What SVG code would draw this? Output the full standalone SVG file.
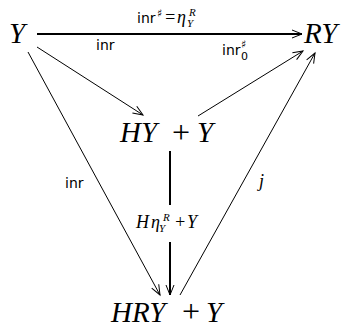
<svg xmlns="http://www.w3.org/2000/svg" width="345" height="328" viewBox="0 0 345 328">
<style>
.obj{font-family:"Liberation Serif","DejaVu Serif",serif;font-size:29px;font-style:italic;fill:#000}
.up{font-style:normal}
.plus{font-style:normal;font-size:32px}
.lbl{font-family:"DejaVu Sans","Liberation Sans",sans-serif;font-size:14px;fill:#000}
.ml{font-family:"Liberation Serif","DejaVu Serif",serif;font-size:18px;font-style:italic;fill:#000}
.sm{font-size:11px}
.thin{stroke:#000;stroke-width:1;fill:none}
.thick{stroke:#000;stroke-width:2;fill:none}
</style>
<defs>
<marker id="ah" markerUnits="userSpaceOnUse" markerWidth="20" markerHeight="20" refX="0" refY="0" viewBox="-12 -10 14 20" orient="auto">
<path d="M-10,-4 L0,0 L-10,4" fill="none" stroke="#000" stroke-width="1"/>
</marker>
</defs>
<g id="connectors">
<g id="e-Y-RY">
<line class="thick" x1="37" y1="34" x2="302" y2="34" marker-end="url(#ah)"/>
<text x="137" y="23" class="lbl">inr</text>
<text x="157" y="17" class="lbl sm">♯</text>
<text x="164" y="23" class="ml up">=</text>
<text x="177" y="23" class="ml">η</text>
<text x="189" y="16" class="ml sm">R</text>
<text x="187" y="27" class="ml sm">Y</text>
</g>
<g id="e-Y-HY">
<line class="thin" x1="37" y1="47" x2="143" y2="115" marker-end="url(#ah)"/>
<text x="96" y="50" class="lbl">inr</text>
</g>
<g id="e-HY-RY">
<line class="thin" x1="198" y1="116" x2="303" y2="51" marker-end="url(#ah)"/>
<text x="222" y="55" class="lbl">inr</text>
<text x="241" y="48" class="lbl sm">♯</text>
<text x="241" y="60" class="lbl sm">0</text>
</g>
<g id="e-HY-HRY">
<line class="thick" x1="170" y1="151" x2="170" y2="205"/>
<line class="thick" x1="170" y1="242" x2="170" y2="295" marker-end="url(#ah)"/>
<text x="136" y="228" class="ml">H</text>
<text x="151" y="228" class="ml">η</text>
<text x="163" y="221" class="ml sm">R</text>
<text x="159" y="232" class="ml sm">Y</text>
<text x="174" y="228" class="ml up" font-size="19">+</text>
<text x="187" y="228" class="ml">Y</text>
</g>
<g id="e-Y-HRY">
<line class="thin" x1="28" y1="52" x2="160" y2="295" marker-end="url(#ah)"/>
<text x="65" y="188" class="lbl">inr</text>
</g>
<g id="e-HRY-RY">
<line class="thin" x1="180" y1="295" x2="315" y2="53" marker-end="url(#ah)"/>
<text x="259" y="187" class="ml">j</text>
</g>
</g>
<g id="n-Y"><text x="9" y="43" class="obj">Y</text></g>
<g id="n-RY"><text x="304" y="43" class="obj">RY</text></g>
<g id="n-HY"><text x="120" y="142" class="obj">HY</text><text x="172" y="143" class="obj plus">+</text><text x="197" y="142" class="obj">Y</text></g>
<g id="n-HRY"><text x="111" y="322" class="obj">HRY</text><text x="182" y="322" class="obj plus">+</text><text x="206" y="322" class="obj">Y</text></g>
</svg>
